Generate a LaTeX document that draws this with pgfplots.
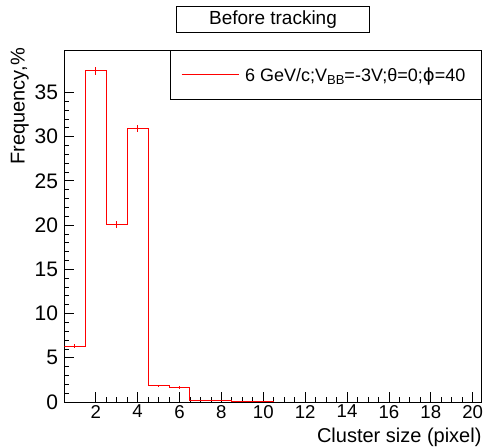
\documentclass[border=0pt]{standalone}
\usepackage{fontspec}
\setmainfont{Liberation Sans}
\newfontfamily\dejavu{DejaVu Sans}
\usepackage{pgfplots}
\pgfplotsset{compat=1.18}

\begin{document}
\begin{tikzpicture}
\useasboundingbox (-64.3pt,-46pt) rectangle (418.7pt,402pt);
\begin{axis}[
  scale only axis, width=417.4pt, height=352pt,
  xmin=0.5, xmax=20.43, ymin=0, ymax=39.8,
  xtick={2,4,...,20}, ytick={0,5,...,35},
  minor x tick num=3, minor y tick num=4,
  tick align=inside, tick pos=left,
  major tick length=10pt, minor tick length=5pt,
  axis line style={line width=0.8pt},
  every tick/.style={black, line width=0.8pt},
  /pgf/number format/assume math mode=true,
  xticklabel style={font=\fontsize{18.6}{18.6}\selectfont, inner sep=0pt, yshift=-3pt},
  yticklabel style={font=\fontsize{21}{21}\selectfont, inner sep=0pt, xshift=-6pt},
  title={Before tracking},
  % default title style already shifts up by 6pt
  title style={font=\fontsize{19}{19}\selectfont, draw, line width=0.8pt,
    minimum width=193pt, minimum height=26pt, inner sep=0pt,
    at={(rel axis cs:0.5,1)}, anchor=south, yshift=11pt},
  xlabel={Cluster size (pixel)},
  xlabel style={at={(rel axis cs:1,0)}, anchor=north east, inner sep=0pt,
    yshift=-26pt, font=\fontsize{20}{20}\selectfont},
  ylabel={Frequency,\%},
  ylabel style={at={(rel axis cs:-0.0846,1.0057)}, anchor=south east,
    inner sep=0pt, font=\fontsize{20}{20}\selectfont},
  legend style={at={(rel axis cs:1,1)}, anchor=north east, draw=black,
    line width=0.8pt, fill=white, inner xsep=11pt, inner ysep=17pt,
    font=\fontsize{18}{18}\selectfont, nodes={inner sep=0pt}},
  legend image code/.code={\draw[#1] (0pt,0pt) -- (57pt,0pt); \path (63pt,0pt);},
]
\addplot[red, line width=1pt, const plot] coordinates {
  (0.5,6.33) (1.5,37.43) (2.5,20.08) (3.5,30.93) (4.5,1.81)
  (5.5,1.62) (6.5,0.22) (7.5,0.22) (8.5,0.08) (9.5,0.08) (10.5,0.08)
};
\addlegendentry{6 GeV/c;V\raisebox{-3pt}{\fontsize{13}{13}\selectfont BB}=-3V;θ=0;{\dejavu ϕ}=40\hspace*{5pt}}

\addplot[draw=none, mark=none, forget plot,
  error bars/.cd, y dir=both, y explicit, error mark=none,
  error bar style={red, line width=1pt}] coordinates {
  (1,6.33) +- (0,0.28)
  (2,37.43) +- (0,0.5)
  (3,20.08) +- (0,0.4)
  (4,30.93) +- (0,0.43)
  (5,1.81) +- (0,0.15)
  (6,1.62) +- (0,0.15)
  (7,0.22) +- (0,0.05)
  (8,0.22) +- (0,0.05)
  (9,0.08) +- (0,0.03)
  (10,0.08) +- (0,0.03)
};
\end{axis}
\end{tikzpicture}
\end{document}
